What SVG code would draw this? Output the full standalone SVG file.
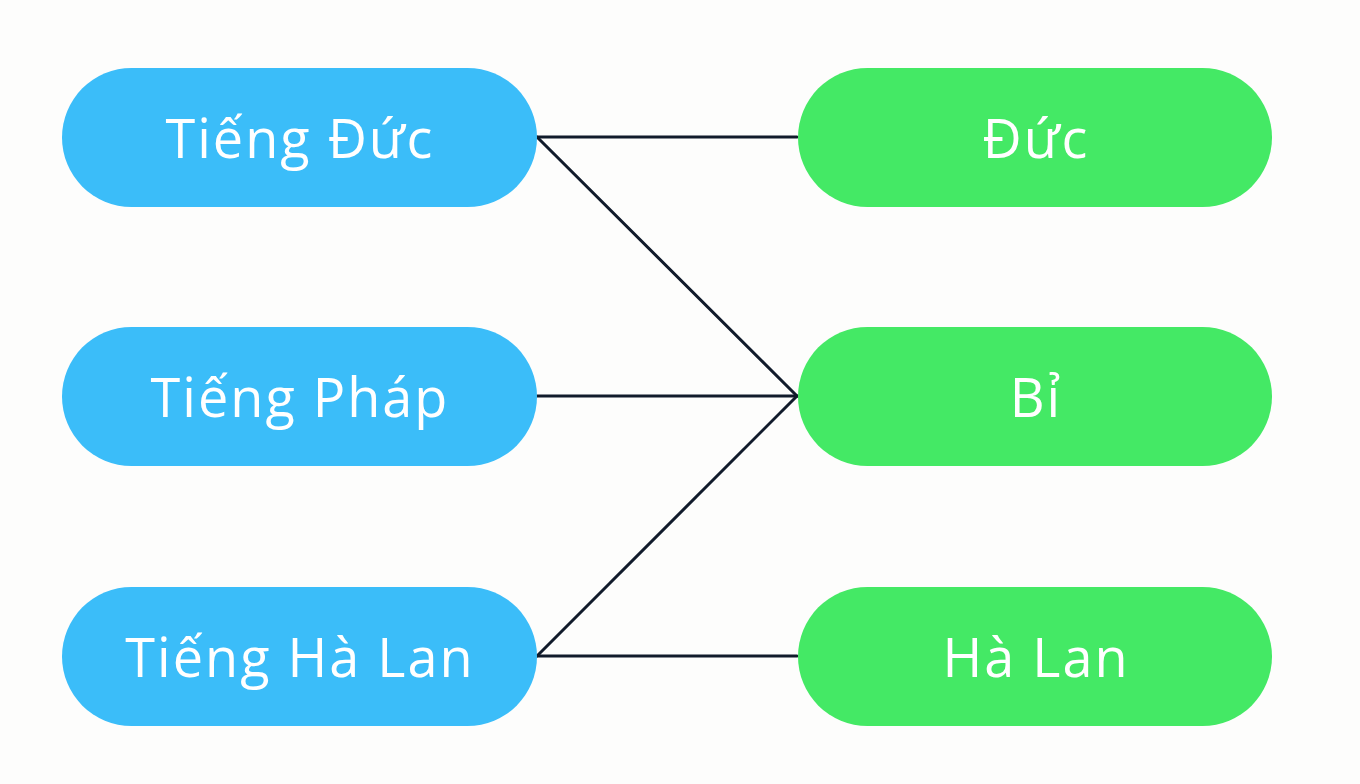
<svg xmlns="http://www.w3.org/2000/svg" width="1360" height="784" viewBox="0 0 1360 784">
<style>
.l{fill:#3BBDF9}
.r{fill:#44E965}
.t{font-family:"Open Sans",Lato,"Liberation Sans",sans-serif;font-size:54px;letter-spacing:2px;fill:#ffffff;text-anchor:middle}
.c{stroke:#111B2B;stroke-width:3;fill:none;stroke-linecap:round}
</style>
<rect width="1360" height="784" fill="#FDFDFC"/>
<g id="connectors">
<line class="c" x1="537" y1="137" x2="797" y2="137"/>
<line class="c" x1="537" y1="137" x2="797" y2="396"/>
<line class="c" x1="537" y1="396" x2="797" y2="396"/>
<line class="c" x1="537" y1="656" x2="797" y2="396"/>
<line class="c" x1="537" y1="656" x2="797" y2="656"/>
</g>
<g id="n1"><rect class="l" x="62" y="68" width="475" height="139" rx="69.5"/><text class="t" x="300" y="158">Tiếng Đức</text></g>
<g id="n2"><rect class="l" x="62" y="327" width="475" height="139" rx="69.5"/><text class="t" x="300" y="417">Tiếng Pháp</text></g>
<g id="n3"><rect class="l" x="62" y="587" width="475" height="139" rx="69.5"/><text class="t" x="300" y="677">Tiếng Hà Lan</text></g>
<g id="n4"><rect class="r" x="798" y="68" width="474" height="139" rx="69.5"/><text class="t" x="1036" y="158">Đức</text></g>
<g id="n5"><rect class="r" x="798" y="327" width="474" height="139" rx="69.5"/><text class="t" x="1036" y="417">Bỉ</text></g>
<g id="n6"><rect class="r" x="798" y="587" width="474" height="139" rx="69.5"/><text class="t" x="1036" y="677">Hà Lan</text></g>
</svg>
